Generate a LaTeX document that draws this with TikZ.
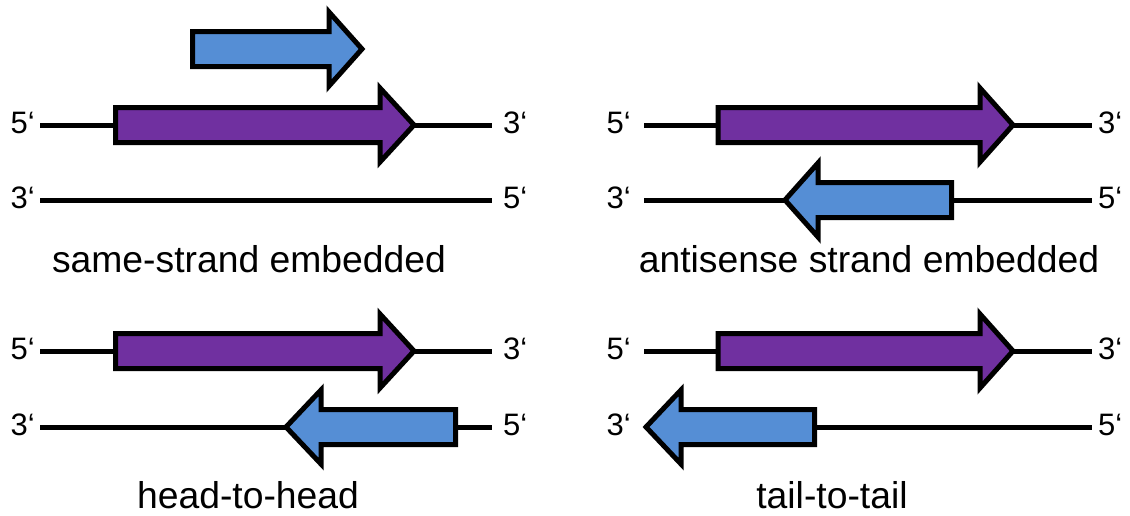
\documentclass[tikz,border=0pt]{standalone}
\usepackage{fontspec}
\setmainfont{Liberation Sans}
\definecolor{genepurple}{RGB}{112,48,160}
\definecolor{geneblue}{RGB}{85,142,213}
\tikzset{
  strand/.style={line width=5pt, draw=black},
  gene/.style={line width=5pt, draw=black, miter limit=10},
  purplegene/.style={gene, fill=genepurple},
  bluegene/.style={gene, fill=geneblue},
  endlabel/.style={font=\fontsize{31}{31}\selectfont, inner sep=0pt},
  caption/.style={font=\fontsize{37.3}{37.3}\selectfont, inner sep=0pt, anchor=base},
}
% gene arrow: #1 tail x, #2 head-back x, #3 tip x, #4 y, #5 style
\newcommand\genearrow[5]{%
  \draw[#5] (#1,#4-17.5) -- (#2,#4-17.5) -- (#2,#4-37) -- (#3,#4)
    -- (#2,#4+37) -- (#2,#4+17.5) -- (#1,#4+17.5) -- cycle;}
\begin{document}
\begin{tikzpicture}[x=1pt,y=-1pt]
\useasboundingbox (0,0) rectangle (1130,515);

% ---------- panel 1: same-strand embedded ----------
\draw[strand] (40,125) -- (492,125);
\draw[strand] (40,200) -- (492,200);
\genearrow{115.5}{380}{414}{125}{purplegene}
\genearrow{192.5}{329}{362}{49}{bluegene}
\node[endlabel, anchor=base east] (a5l) at (35,133) {5‘};
\node[endlabel, anchor=base west] (a3r) at (503,133) {3‘};
\node[endlabel, anchor=base east] (a3l) at (35,208) {3‘};
\node[endlabel, anchor=base west] (a5r) at (503,208) {5‘};
\node[caption] (capA) at (249,272) {same-strand embedded};

% ---------- panel 2: antisense strand embedded ----------
\draw[strand] (644,125) -- (1092,125);
\draw[strand] (644,200) -- (1092,200);
\genearrow{718}{980}{1013}{125}{purplegene}
\genearrow{951.5}{818}{785}{200}{bluegene}
\node[endlabel, anchor=base east] (b5l) at (631,133) {5‘};
\node[endlabel, anchor=base west] (b3r) at (1098,133) {3‘};
\node[endlabel, anchor=base east] (b3l) at (631,208) {3‘};
\node[endlabel, anchor=base west] (b5r) at (1098,208) {5‘};
\node[caption] (capB) at (869,272) {antisense strand embedded};

% ---------- panel 3: head-to-head ----------
\draw[strand] (40,351) -- (492,351);
\draw[strand] (40,427) -- (492,427);
\genearrow{115.5}{380}{414}{351}{purplegene}
\genearrow{455.5}{321}{286}{427}{bluegene}
\node[endlabel, anchor=base east] (c5l) at (35,359) {5‘};
\node[endlabel, anchor=base west] (c3r) at (503,359) {3‘};
\node[endlabel, anchor=base east] (c3l) at (35,435) {3‘};
\node[endlabel, anchor=base west] (c5r) at (503,435) {5‘};
\node[caption] (capC) at (248,508) {head-to-head};

% ---------- panel 4: tail-to-tail ----------
\draw[strand] (644,351) -- (1092,351);
\draw[strand] (814.5,427) -- (1092,427);
\genearrow{718}{980}{1013}{351}{purplegene}
\genearrow{814.5}{681}{646}{427}{bluegene}
\node[endlabel, anchor=base east] (d5l) at (631,359) {5‘};
\node[endlabel, anchor=base west] (d3r) at (1098,359) {3‘};
\node[endlabel, anchor=base east] (d3l) at (631,435) {3‘};
\node[endlabel, anchor=base west] (d5r) at (1098,435) {5‘};
\node[caption] (capD) at (832,508) {tail-to-tail};
\end{tikzpicture}
\end{document}
